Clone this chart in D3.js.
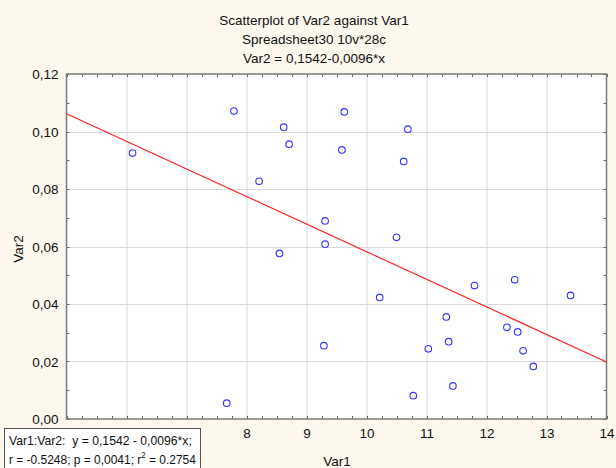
<!DOCTYPE html>
<html>
<head>
<meta charset="utf-8">
<script src="https://cdn.jsdelivr.net/npm/d3@7"></script>
<style>
  html, body { margin: 0; padding: 0; background: #fcf8ed; }
  svg { display: block; font-family: "Liberation Sans", Arial, sans-serif; }
</style>
</head>
<body>
<script>
// ---- data ----
const var1 = [6.10, 7.79, 8.62, 8.71, 8.21, 9.31, 9.31, 8.55, 9.63, 10.69, 9.59, 10.62, 10.50, 9.29,
              7.67, 10.22, 11.80, 12.47, 13.40, 11.33, 11.37, 11.03, 12.34, 12.52, 12.61, 12.78, 11.44, 10.78];
const var2 = [0.0925, 0.1071, 0.1015, 0.0956, 0.0827, 0.0689, 0.0608, 0.0576, 0.1068, 0.1008, 0.0936, 0.0896, 0.0632, 0.0255,
              0.0055, 0.0423, 0.0464, 0.0484, 0.0430, 0.0355, 0.0269, 0.0244, 0.0319, 0.0303, 0.0237, 0.0183, 0.0115, 0.0081];
const fitCoef = [0.1542, -0.0096]; // intercept, slope
const xTicks = [5, 6, 7, 8, 9, 10, 11, 12, 13, 14];
const xTickLabels = [8, 9, 10, 11, 12, 13, 14]; // 5, 6, 7 are hidden behind the stats box
const yTicks = [0.00, 0.02, 0.04, 0.06, 0.08, 0.10, 0.12];
const titleLines = ["Scatterplot of Var2 against Var1", "Spreadsheet30 10v*28c", "Var2 = 0,1542-0,0096*x"];
const xLabel = "Var1";
const yLabel = "Var2";
const statsLine1 = "Var1:Var2:  y = 0,1542 - 0,0096*x;";
const statsLine2 = ["r = -0.5248; p = 0,0041; r", "2", " = 0.2754"];

const W = 616, H = 468;
const L = 66.5, R = 606.5, T = 74, B = 419;
const FS = 13.5;
const FS_BOX = 13;

const svg = d3.select("body").append("svg").attr("width", W).attr("height", H);
svg.append("rect").attr("width", W).attr("height", H).attr("fill", "#fcf8ed");

const x = d3.scaleLinear().domain([5, 14]).range([L, R]);
const y = d3.scaleLinear().domain([0, 0.12]).range([B, T]);

// plot area
svg.append("rect").attr("x", L).attr("y", T).attr("width", R - L).attr("height", B - T).attr("fill", "#ffffff");

// gridlines
svg.append("g").selectAll("line").data(xTicks.slice(1, -1)).join("line")
  .attr("x1", d => x(d) + 0.5).attr("x2", d => x(d) + 0.5).attr("y1", T).attr("y2", B)
  .attr("stroke", "#dadada").attr("stroke-width", 1);
svg.append("g").selectAll("line").data(yTicks.slice(1, -1)).join("line")
  .attr("x1", L).attr("x2", R).attr("y1", d => Math.round(y(d)) + 0.5).attr("y2", d => Math.round(y(d)) + 0.5)
  .attr("stroke", "#dadada").attr("stroke-width", 1);

// inner tick marks
const xMinor = d3.range(5, 14.001, 0.25);
const yMinor = d3.range(0, 0.12001, 0.01);
const tk = svg.append("g").attr("stroke", "#666").attr("stroke-width", 1);
xMinor.forEach(v => {
  const px = Math.round(x(v)) + 0.5;
  tk.append("line").attr("x1", px).attr("x2", px).attr("y1", T).attr("y2", T + 3);
  tk.append("line").attr("x1", px).attr("x2", px).attr("y1", B).attr("y2", B - 3);
});
yMinor.forEach(v => {
  const py = Math.round(y(v)) + 0.5;
  tk.append("line").attr("x1", L).attr("x2", L + 3).attr("y1", py).attr("y2", py);
  tk.append("line").attr("x1", R).attr("x2", R - 3).attr("y1", py).attr("y2", py);
});

// frame
svg.append("rect").attr("x", L).attr("y", T).attr("width", R - L).attr("height", B - T)
  .attr("fill", "none").attr("stroke", "#7a7a7a").attr("stroke-width", 1.5);

// regression line
const xd = x.domain();
svg.append("line")
  .attr("x1", x(xd[0])).attr("y1", y(fitCoef[0] + fitCoef[1] * xd[0]))
  .attr("x2", x(xd[1])).attr("y2", y(fitCoef[0] + fitCoef[1] * xd[1]))
  .attr("stroke", "#ff2020").attr("stroke-width", 1.2);

// points
svg.append("g").selectAll("circle").data(var1.map((v, i) => [v, var2[i]])).join("circle")
  .attr("cx", d => x(d[0])).attr("cy", d => y(d[1])).attr("r", 3.3)
  .attr("fill", "none").attr("stroke", "#3535ff").attr("stroke-width", 1.1);

// axes labels (tick labels)
const xAxis = d3.axisBottom(x).tickValues(xTickLabels).tickFormat(d3.format("d")).tickSize(0).tickPadding(0);
const gx = svg.append("g").attr("transform", `translate(0,${B})`).call(xAxis);
gx.select(".domain").remove();
gx.selectAll("text").attr("dy", null).attr("y", 19).attr("font-size", FS)
  .attr("font-family", "Liberation Sans, Arial, sans-serif").attr("fill", "#111");

const fmtY = v => d3.format(".2f")(v).replace(".", ",");
const yAxis = d3.axisLeft(y).tickValues(yTicks).tickFormat(fmtY).tickSize(0).tickPadding(0);
const gy = svg.append("g").attr("transform", `translate(${L},0)`).call(yAxis);
gy.select(".domain").remove();
gy.selectAll("text").attr("x", -8).attr("dy", "0.36em").attr("font-size", FS)
  .attr("font-family", "Liberation Sans, Arial, sans-serif").attr("fill", "#111");

// axis titles
svg.append("text").attr("x", 337).attr("y", 466).attr("text-anchor", "middle")
  .attr("font-size", FS).attr("fill", "#111").text(xLabel);
svg.append("text").attr("transform", "translate(23,249) rotate(-90)").attr("text-anchor", "middle")
  .attr("font-size", FS).attr("fill", "#111").text(yLabel);

// title
svg.append("g").selectAll("text").data(titleLines).join("text")
  .attr("x", 314).attr("y", (d, i) => 25 + i * 19).attr("text-anchor", "middle")
  .attr("font-size", FS).attr("fill", "#111").text(d => d);

// stats box
const box = svg.append("g");
box.append("rect").attr("x", 4.5).attr("y", 428.5).attr("width", 196).attr("height", 45)
  .attr("fill", "#ffffff").attr("stroke", "#555").attr("stroke-width", 1);

function fitWidth(textSel, x0, target) {
  const w = textSel.node().getBBox().width;
  const s = target / w;
  textSel.attr("transform", `translate(${x0},0) scale(${s},1) translate(${-x0},0)`);
}
const t1 = box.append("text").attr("x", 9).attr("y", 445).attr("font-size", FS_BOX).attr("fill", "#111")
  .attr("xml:space", "preserve").text(statsLine1);
fitWidth(t1, 9, 183);
const t2 = box.append("text").attr("x", 9).attr("y", 464).attr("font-size", FS_BOX).attr("fill", "#111")
  .attr("xml:space", "preserve");
t2.append("tspan").text(statsLine2[0]);
t2.append("tspan").attr("font-size", 8.5).attr("dy", -6).text(statsLine2[1]);
t2.append("tspan").attr("dy", 6).text(statsLine2[2]);
fitWidth(t2, 9, 187);
</script>
</body>
</html>
